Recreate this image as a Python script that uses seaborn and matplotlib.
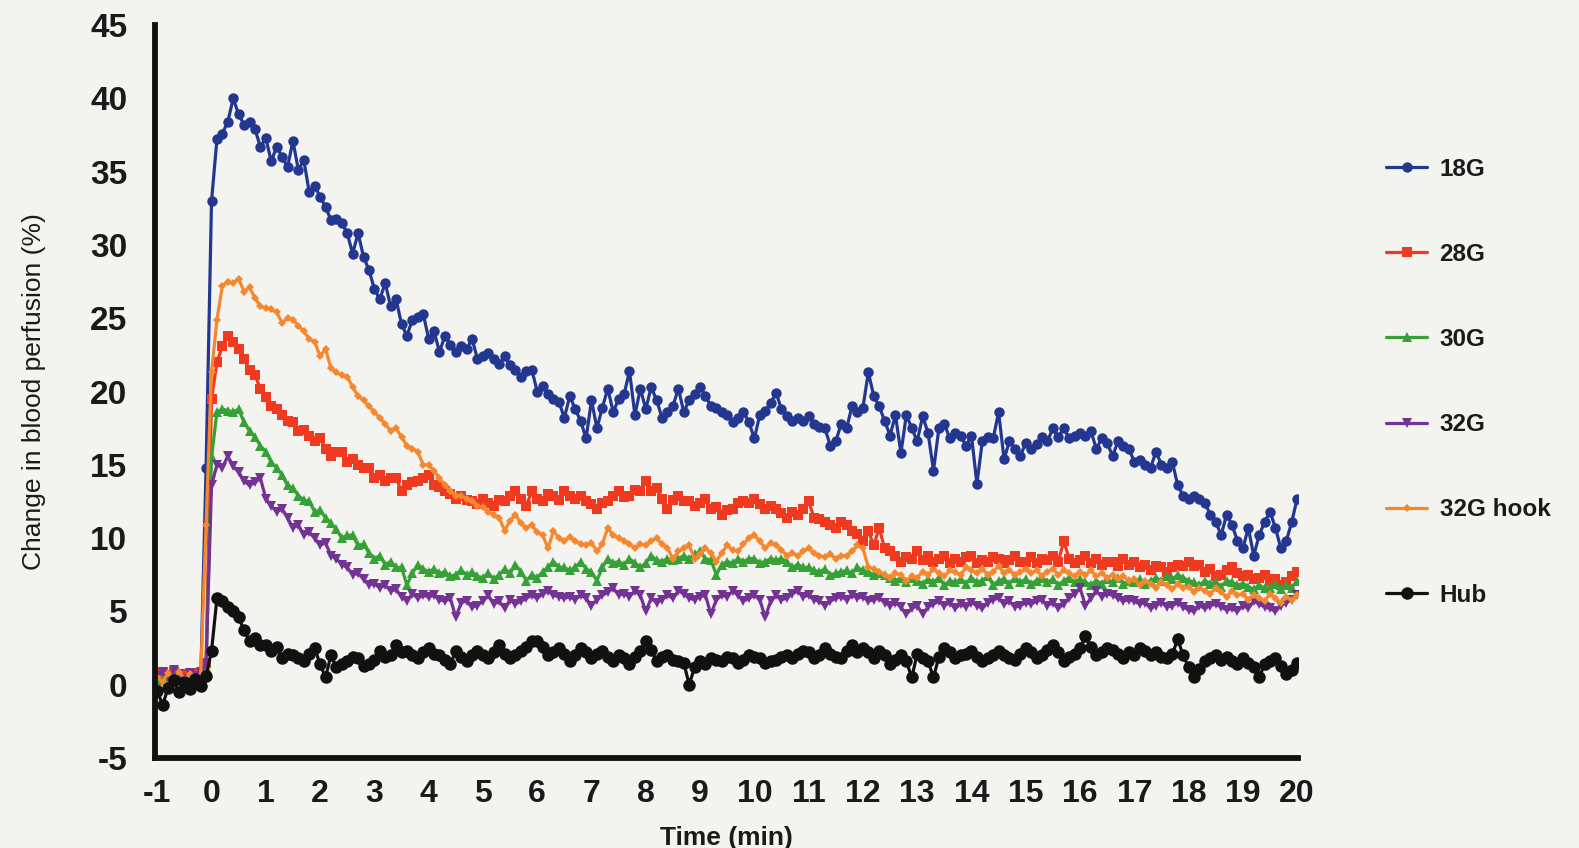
import numpy as np
import pandas as pd
import matplotlib
matplotlib.use("Agg")
import matplotlib.pyplot as plt
import seaborn as sns

# Sampling times (min): one reading every 6 s from -1 to 20 min
time_min = np.round(np.arange(-10, 201) / 10, 1)

# Change in blood perfusion (%) per needle type
g18 = [0.4, 0.7, 0.2, 0.8, 0.3, 0.6, -0.2, 0.5, 0.2, 14.8,
       33.0, 37.2, 37.6, 38.4, 40.0, 38.9, 38.2, 38.4, 37.9, 36.7,
       37.3, 35.7, 36.7, 36.0, 35.3, 37.1, 35.1, 35.8, 33.6, 34.0,
       33.3, 32.6, 31.7, 31.8, 31.5, 30.8, 29.4, 30.8, 29.2, 28.3,
       27.0, 26.3, 27.4, 25.8, 26.3, 24.6, 23.8, 24.9, 25.1, 25.3,
       23.6, 24.1, 22.7, 23.8, 23.2, 22.7, 23.1, 22.9, 23.6, 22.2,
       22.4, 22.6, 22.2, 21.9, 22.4, 21.8, 21.5, 21.0, 21.4, 21.5,
       20.0, 20.4, 19.8, 19.5, 19.3, 18.2, 19.7, 18.8, 18.0, 16.8,
       19.4, 17.5, 18.9, 20.2, 18.6, 19.5, 19.8, 21.4, 18.4, 20.2,
       18.8, 20.3, 19.4, 18.2, 18.6, 19.0, 20.2, 18.6, 19.4, 19.8,
       20.3, 19.7, 19.0, 18.9, 18.6, 18.4, 17.9, 18.2, 18.6, 17.9,
       16.8, 18.4, 18.7, 19.2, 19.9, 18.8, 18.3, 18.0, 18.2, 18.0,
       18.3, 17.8, 17.6, 17.5, 16.3, 16.6, 17.8, 17.5, 19.0, 18.6,
       18.9, 21.3, 19.7, 19.0, 18.0, 17.0, 18.4, 15.8, 18.4, 17.5,
       16.6, 18.3, 17.2, 14.6, 17.5, 17.8, 16.8, 17.2, 17.0, 16.3,
       17.0, 13.7, 16.6, 16.9, 16.8, 18.6, 15.4, 16.6, 16.1, 15.6,
       16.5, 16.1, 16.4, 16.9, 16.6, 17.5, 16.9, 17.5, 16.8, 17.0,
       17.2, 17.0, 17.3, 16.1, 16.8, 16.5, 15.6, 16.6, 16.3, 16.1,
       15.2, 15.3, 15.0, 14.8, 15.9, 15.0, 14.8, 15.2, 13.6, 12.9,
       12.7, 12.9, 12.7, 12.4, 11.6, 11.1, 10.2, 11.6, 10.9, 9.8,
       9.3, 10.7, 8.8, 10.2, 11.1, 11.8, 10.7, 9.3, 9.8, 11.1,
       12.7]

g28 = [0.3, 0.8, 0.5, 0.9, 0.4, 0.7, 0.5, 0.8, 0.3, 1.5,
       19.5, 22.0, 23.1, 23.8, 23.4, 22.9, 22.2, 21.5, 21.1, 20.2,
       19.6, 19.0, 18.8, 18.4, 18.0, 17.9, 17.3, 17.4, 17.0, 16.6,
       16.8, 16.1, 15.6, 15.9, 15.9, 15.2, 15.4, 15.0, 14.8, 14.8,
       14.1, 14.3, 13.9, 14.1, 14.1, 13.2, 13.6, 13.8, 13.9, 14.1,
       14.3, 13.6, 13.5, 13.2, 13.0, 12.7, 12.9, 12.6, 12.5, 12.3,
       12.7, 12.4, 12.2, 12.6, 12.5, 12.9, 13.2, 12.7, 12.2, 13.2,
       12.7, 12.5, 13.0, 12.9, 12.6, 13.2, 12.9, 12.7, 12.9, 12.5,
       12.3, 12.0, 12.4, 12.5, 12.9, 13.2, 12.8, 12.9, 13.3, 13.2,
       13.9, 13.2, 13.4, 12.7, 12.0, 12.6, 12.9, 12.5, 12.5, 12.2,
       12.4, 12.7, 12.0, 12.1, 11.6, 11.9, 12.0, 12.4, 12.5, 12.4,
       12.7, 12.3, 12.0, 12.2, 12.0, 11.7, 11.4, 11.8, 11.6, 12.0,
       12.5, 11.4, 11.3, 11.1, 10.9, 10.7, 11.1, 10.9, 10.5, 10.3,
       9.8, 10.5, 9.5, 10.7, 9.3, 9.1, 8.8, 8.4, 8.7, 8.6,
       9.1, 8.5, 8.8, 8.4, 8.6, 8.8, 8.3, 8.6, 8.4, 8.7,
       8.8, 8.3, 8.5, 8.4, 8.7, 8.6, 8.3, 8.5, 8.8, 8.4,
       8.4, 8.7, 8.3, 8.6, 8.5, 8.8, 8.4, 9.8, 8.6, 8.3,
       8.5, 8.8, 8.3, 8.6, 8.2, 8.4, 8.4, 8.1, 8.6, 8.2,
       8.4, 8.0, 8.2, 7.8, 8.1, 8.0, 7.7, 8.0, 8.2, 8.1,
       8.4, 8.1, 8.2, 7.7, 7.9, 7.4, 7.5, 7.8, 8.0, 7.6,
       7.4, 7.5, 7.2, 7.3, 7.5, 7.1, 7.2, 6.8, 7.0, 7.4,
       7.7]

g30 = [0.2, 0.5, 0.0, 0.6, 0.3, 0.4, 0.1, 0.6, 0.4, 1.2,
       15.5, 18.6, 18.8, 18.7, 18.6, 18.8, 17.9, 17.3, 16.9, 16.3,
       15.9, 15.2, 14.8, 14.3, 13.6, 13.4, 12.9, 12.6, 12.5, 11.8,
       11.9, 11.4, 11.0, 10.6, 10.0, 10.2, 10.2, 9.5, 9.6, 9.0,
       8.6, 8.8, 8.2, 8.4, 8.0, 8.0, 6.8, 7.6, 8.2, 7.9,
       7.7, 7.9, 7.6, 7.7, 7.4, 7.5, 7.8, 7.5, 7.7, 7.4,
       7.3, 7.6, 7.2, 7.5, 7.9, 7.6, 8.2, 7.7, 7.1, 7.5,
       7.3, 7.7, 8.0, 8.4, 8.0, 8.0, 7.8, 8.0, 8.4, 7.9,
       7.7, 7.1, 8.0, 8.6, 8.3, 8.4, 8.2, 8.6, 8.3, 8.0,
       8.3, 8.8, 8.5, 8.4, 8.6, 8.5, 8.6, 8.8, 8.6, 8.9,
       9.1, 8.6, 8.5, 7.5, 8.2, 8.4, 8.3, 8.6, 8.4, 8.6,
       8.6, 8.3, 8.4, 8.6, 8.5, 8.6, 8.4, 8.0, 8.2, 8.0,
       8.0, 7.8, 7.7, 7.9, 7.5, 7.6, 7.7, 7.8, 7.6, 8.0,
       7.8, 7.7, 7.5, 7.6, 7.5, 7.3, 7.1, 7.3, 7.0, 7.3,
       7.1, 6.9, 7.2, 7.0, 7.3, 6.8, 7.1, 7.0, 7.2, 6.9,
       7.3, 7.0, 7.1, 7.4, 6.8, 7.1, 7.2, 6.9, 7.3, 7.0,
       7.2, 6.9, 7.1, 7.3, 7.0, 7.2, 6.8, 7.1, 7.3, 7.0,
       7.2, 7.0, 6.8, 7.1, 6.9, 7.2, 7.0, 7.3, 6.9, 7.1,
       7.0, 7.2, 6.9, 7.1, 7.3, 7.1, 7.4, 7.2, 7.5, 7.3,
       7.1, 7.0, 6.8, 7.1, 6.9, 7.0, 6.7, 7.1, 7.0, 6.8,
       6.9, 6.7, 6.5, 6.8, 6.6, 6.6, 6.9, 6.5, 6.8, 6.6,
       7.1]

g32 = [0.6, 0.9, 0.5, 1.0, 0.7, 0.4, 0.8, 0.6, 0.9, 1.5,
       13.6, 15.0, 14.8, 15.6, 14.9, 14.5, 13.9, 13.6, 13.8, 14.1,
       12.7, 12.2, 11.8, 12.0, 11.4, 10.7, 10.9, 10.2, 10.4, 10.0,
       9.5, 9.7, 8.8, 8.6, 8.2, 8.0, 7.5, 7.6, 7.2, 6.8,
       6.9, 6.6, 6.8, 6.4, 6.5, 6.0, 5.7, 6.2, 5.9, 6.1,
       6.0, 6.1, 5.8, 5.7, 5.9, 4.6, 5.6, 5.7, 5.3, 5.4,
       5.7, 6.1, 5.5, 5.7, 5.2, 5.8, 5.5, 5.7, 5.9, 6.1,
       5.9, 6.2, 6.4, 6.1, 6.0, 5.9, 6.0, 5.8, 6.1, 5.9,
       5.4, 5.8, 6.1, 6.3, 6.6, 6.1, 6.2, 6.0, 6.4, 6.1,
       5.0, 5.9, 5.6, 5.8, 6.1, 5.9, 6.4, 6.2, 5.9, 5.8,
       6.0, 6.1, 4.8, 5.8, 6.1, 6.0, 6.4, 6.1, 5.7, 5.9,
       6.1, 5.8, 4.6, 5.7, 6.1, 5.8, 5.9, 6.2, 6.4, 6.0,
       6.1, 5.8, 5.7, 5.4, 5.7, 5.9, 6.0, 5.8, 6.1, 5.9,
       6.0, 5.7, 5.8, 5.9, 5.6, 5.4, 5.6, 5.3, 4.8, 5.2,
       5.4, 4.8, 5.3, 5.5, 5.7, 5.4, 5.6, 5.2, 5.5, 5.3,
       5.6, 5.4, 5.2, 5.6, 5.8, 5.9, 5.5, 5.7, 5.3, 5.4,
       5.6, 5.5, 5.7, 5.8, 5.4, 5.6, 5.2, 5.5, 5.9, 6.2,
       6.6, 5.4, 5.9, 6.4, 6.0, 6.2, 6.1, 5.9, 5.7, 5.8,
       5.7, 5.5, 5.6, 5.2, 5.4, 5.6, 5.3, 5.4, 5.6, 5.3,
       5.1, 5.0, 5.4, 5.2, 5.4, 5.5, 5.3, 5.1, 5.2, 5.0,
       5.4, 5.2, 5.7, 5.5, 5.3, 5.2, 5.0, 5.4, 5.6, 5.8,
       6.1]

g32_hook = [0.5, 0.2, 0.8, 0.3, 0.9, 0.4, 0.7, 0.2, 0.6, 10.9,
            21.3, 24.9, 27.2, 27.5, 27.4, 27.7, 26.8, 27.1, 26.4, 25.8,
            25.7, 25.6, 25.4, 24.7, 25.0, 24.9, 24.5, 24.1, 23.6, 23.4,
            22.4, 22.9, 21.6, 21.3, 21.1, 21.0, 20.3, 19.7, 19.4, 19.0,
            18.6, 18.2, 17.8, 17.3, 17.5, 16.9, 16.3, 16.1, 15.9, 15.0,
            15.0, 14.6, 14.1, 13.6, 13.2, 12.9, 12.9, 12.7, 12.5, 12.2,
            12.1, 11.8, 11.6, 11.4, 10.5, 11.2, 11.6, 11.0, 10.7, 10.9,
            10.4, 10.2, 9.3, 10.5, 10.0, 9.8, 10.1, 9.8, 9.6, 9.5,
            9.7, 9.1, 9.6, 10.7, 10.2, 10.0, 9.8, 9.6, 9.3, 9.6,
            9.5, 9.8, 10.0, 9.6, 9.3, 8.6, 9.1, 9.3, 9.5, 8.6,
            8.9, 9.3, 9.0, 8.4, 9.0, 9.5, 9.2, 9.1, 9.6, 10.0,
            10.2, 9.8, 9.3, 9.7, 9.5, 9.2, 8.8, 9.0, 8.8, 9.1,
            9.3, 9.0, 8.8, 8.7, 8.9, 8.6, 8.8, 8.8, 9.1, 9.5,
            9.3, 8.0, 7.9, 7.7, 7.5, 7.3, 7.6, 7.5, 7.1, 7.4,
            7.3, 7.7, 7.5, 7.9, 7.6, 7.4, 7.8, 7.7, 7.5, 8.0,
            7.8, 7.6, 7.9, 7.5, 7.7, 8.1, 7.6, 7.8, 7.5, 7.7,
            7.9, 7.6, 7.8, 7.4, 7.7, 7.9, 7.5, 7.8, 7.6, 7.4,
            7.7, 7.5, 7.8, 7.4, 7.6, 7.3, 7.5, 7.2, 7.4, 7.1,
            7.2, 6.8, 7.1, 6.9, 6.6, 7.0, 6.8, 6.5, 6.9, 6.6,
            6.7, 6.3, 6.6, 6.4, 6.2, 6.6, 6.3, 6.0, 6.4, 6.1,
            6.2, 5.8, 6.1, 5.9, 5.7, 6.2, 5.9, 5.6, 6.0, 5.8,
            6.1]

hub = [-0.4, -1.4, -0.2, 0.3, -0.5, 0.2, -0.3, 0.4, -0.1, 0.6,
       2.3, 5.9, 5.7, 5.3, 5.0, 4.6, 3.7, 3.0, 3.2, 2.7,
       2.7, 2.3, 2.6, 1.8, 2.1, 2.0, 1.8, 1.6, 2.1, 2.5,
       1.4, 0.5, 2.0, 1.2, 1.4, 1.6, 1.9, 1.8, 1.3, 1.4,
       1.7, 2.3, 1.9, 2.0, 2.7, 2.2, 2.3, 2.0, 1.8, 2.2,
       2.5, 2.1, 2.0, 1.7, 1.4, 2.3, 1.9, 1.6, 2.0, 2.3,
       2.0, 1.8, 2.2, 2.7, 2.1, 1.8, 2.0, 2.3, 2.6, 3.0,
       3.0, 2.6, 2.0, 2.2, 2.5, 2.1, 1.6, 2.0, 2.5, 2.2,
       1.8, 2.1, 2.3, 1.9, 1.6, 2.0, 1.8, 1.4, 1.9, 2.3,
       3.0, 2.4, 1.6, 1.9, 2.0, 1.7, 1.6, 1.5, 0.0, 1.2,
       1.6, 1.4, 1.8, 1.7, 1.6, 1.9, 1.8, 1.5, 1.7, 2.0,
       1.9, 1.8, 1.5, 1.6, 1.7, 1.9, 2.0, 1.8, 2.1, 2.3,
       2.2, 1.8, 2.0, 2.5, 2.1, 1.9, 1.8, 2.3, 2.7, 2.2,
       2.5, 2.2, 1.8, 2.3, 2.0, 1.4, 1.7, 2.0, 1.6, 0.5,
       2.1, 1.8, 1.6, 0.5, 1.9, 2.5, 2.2, 1.8, 2.0, 2.1,
       2.3, 1.9, 1.6, 1.8, 2.0, 2.3, 2.0, 1.8, 1.7, 2.1,
       2.5, 2.2, 1.8, 2.0, 2.4, 2.7, 2.2, 1.6, 1.9, 2.1,
       2.5, 3.3, 2.6, 2.0, 2.2, 2.5, 2.4, 2.1, 1.8, 2.2,
       2.0, 2.5, 2.3, 2.0, 2.2, 1.9, 1.8, 2.1, 3.1, 2.0,
       1.2, 0.5, 1.1, 1.6, 1.8, 2.0, 1.7, 1.9, 1.6, 1.4,
       1.8, 1.5, 1.2, 0.5, 1.4, 1.6, 1.8, 1.3, 0.7, 1.0,
       1.5]

series_names = ["18G", "28G", "30G", "32G", "32G hook", "Hub"]
series_values = [g18, g28, g30, g32, g32_hook, hub]

x_ticks = list(range(-1, 21))
y_ticks = list(range(-5, 50, 5))

# Long-form table for seaborn
df = pd.concat(
    [pd.DataFrame({"time": time_min, "perfusion": vals, "needle": name})
     for name, vals in zip(series_names, series_values)],
    ignore_index=True,
)

colors = {
    "18G": "#243790",
    "28G": "#ef3a1f",
    "30G": "#35a137",
    "32G": "#733294",
    "32G hook": "#f5872e",
    "Hub": "#111111",
}
markers = {"18G": "o", "28G": "s", "30G": "^", "32G": "v",
           "32G hook": "D", "Hub": "o"}
msizes = {"18G": 7.5, "28G": 7.5, "30G": 6.5, "32G": 6.5,
          "32G hook": 4.5, "Hub": 9.0}

sns.set_theme(style="white")
plt.rcParams["font.family"] = ["Liberation Sans", "DejaVu Sans"]

bg = "#f3f3f0"
fig = plt.figure(figsize=(15.79, 8.48), dpi=100, facecolor=bg)
ax = fig.add_axes([0.0982, 0.1061, 0.7240, 0.8644])
ax.set_facecolor(bg)

for name in series_names:
    sub = df[df["needle"] == name]
    sns.lineplot(data=sub, x="time", y="perfusion", ax=ax,
                 color=colors[name], marker=markers[name],
                 markersize=msizes[name], markeredgewidth=0,
                 linewidth=2.3, label=name, estimator=None, sort=True)

ax.set_xlim(-1.04, 20.02)
ax.set_ylim(-5, 45)
ax.set_xticks(x_ticks)
ax.set_yticks(y_ticks)
ax.set_xticklabels([str(v) for v in x_ticks], fontsize=23, fontweight="bold")
ax.set_yticklabels([str(v) for v in y_ticks], fontsize=24, fontweight="bold")

for side in ("top", "right"):
    ax.spines[side].set_visible(False)
for side in ("left", "bottom"):
    ax.spines[side].set_linewidth(4.2)
    ax.spines[side].set_color("#111111")
ax.tick_params(axis="both", which="major", direction="out", length=9,
               width=4.2, color="#111111", labelcolor="#1a1a1a")
ax.tick_params(axis="y", pad=11)
ax.tick_params(axis="x", pad=6)
ax.grid(False)

ax.set_xlabel("Time (min)", fontsize=19, fontweight="bold", labelpad=12,
              color="#1a1a1a")
ax.set_ylabel("Change in blood perfusion (%)", fontsize=19, labelpad=32,
              color="#1a1a1a")

leg = ax.legend(loc="upper left", bbox_to_anchor=(0.864, 0.840),
                bbox_transform=fig.transFigure, frameon=False,
                handlelength=1.7, handletextpad=0.5, labelspacing=2.56,
                prop={"size": 17.5, "weight": "bold"})
for text in leg.get_texts():
    text.set_color("#1a1a1a")

fig.savefig("out.png", dpi=100, facecolor=bg)
